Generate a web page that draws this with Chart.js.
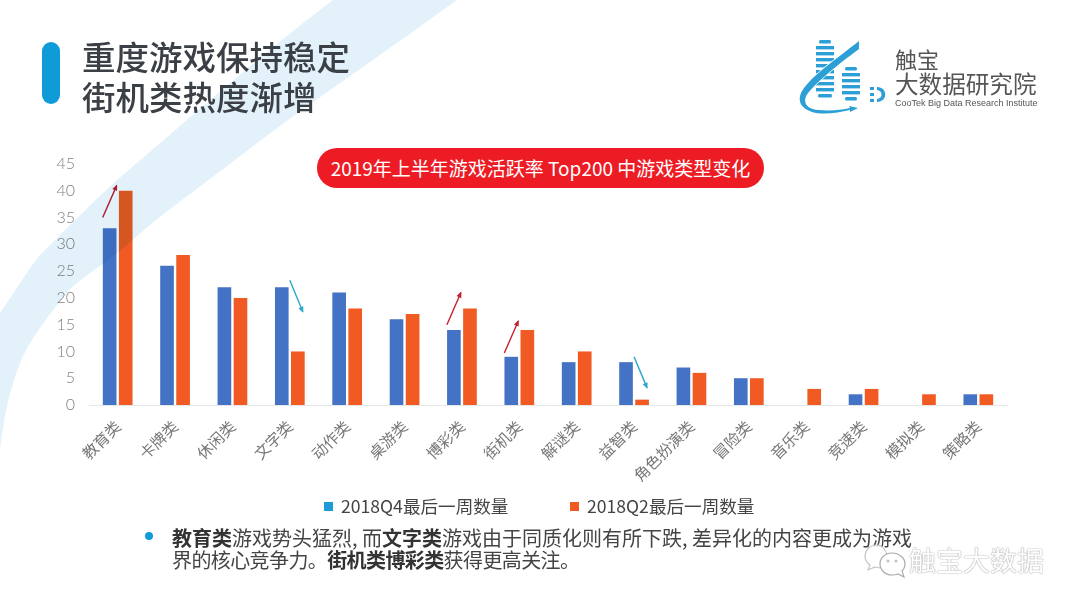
<!DOCTYPE html>
<html lang="zh-CN">

<head>
    <meta charset="UTF-8">
    <title>重度游戏保持稳定 街机类热度渐增</title>
    <script src="https://cdn.jsdelivr.net/npm/chart.js"></script>
    <style>
        html, body { margin: 0; padding: 0; background: #fff; }
        body { width: 1080px; height: 608px; position: relative; overflow: hidden; font-family: "Noto Sans CJK SC", "Noto Sans", sans-serif; }
        .abs { position: absolute; white-space: nowrap; }
        #chartBox { position: absolute; left: 0; top: 0; width: 1080px; height: 608px; }
        #band { position: absolute; left: 0; top: 0; mix-blend-mode: multiply; }
        #logo { position: absolute; left: 0; top: 0; }
        .title { left: 82px; font-size: 33.5px; line-height: 40px; color: #3b4046; font-weight: 500; }
        .pill { left: 317px; top: 148px; width: 447px; height: 40px; border-radius: 20px; background: #ed1c24; color: #fff; font-size: 19px; line-height: 40px; text-align: center; }
        .note { left: 172px; font-size: 20px; line-height: 24px; color: #444; }
        .note b { font-weight: 700; color: #333; }
        .mark { left: 909px; top: 541px; font-size: 27px; line-height: 38px; color: #fff; text-shadow: 0 0 1px #aaa, 0 0 1px #aaa, 0 0 2px #ccc; }
    </style>
</head>

<body>
    <div id="chartBox"><canvas id="gameChart" width="1080" height="608"></canvas></div>

    <!-- light swoosh in the background, multiplied over the bars like the original -->
    <svg id="band" width="1080" height="608">
        <path fill="#e3f2fa" d="M333 0 L457 0 C360 70 300 110 248 150 C200 187 160 215 133 240 C100 268 85 275 69 290 C45 320 30 340 20 363 C10 390 5 410 0 450 L0 313 C20 285 30 265 45 250 C70 225 95 200 117 180 C190 118 260 55 333 0 Z" />
    </svg>

    <svg id="logo" width="1080" height="608">
        <rect x="42" y="42" width="18" height="62" rx="9" fill="#0e9bd8" />
        <!-- striped towers -->
        <g fill="#2b9fd6">
            <rect x="819" y="40" width="12" height="3.4" rx="1.5" /><rect x="816" y="46" width="18" height="3.4" />
            <rect x="816" y="52" width="18" height="3.4" /><rect x="816" y="58" width="18" height="3.4" />
            <rect x="816" y="64" width="18" height="3.4" /><rect x="816" y="70" width="18" height="3.4" />
            <rect x="816" y="76" width="18" height="3.4" /><rect x="816" y="82" width="18" height="3.4" />
            <rect x="816" y="88" width="18" height="3.4" /><rect x="818" y="94" width="14" height="3.4" rx="1.5" />
            <rect x="845" y="67" width="12" height="3.4" rx="1.5" /><rect x="842" y="73" width="18" height="3.4" />
            <rect x="842" y="79" width="18" height="3.4" /><rect x="842" y="85" width="18" height="3.4" />
            <rect x="842" y="91" width="18" height="3.4" /><rect x="845" y="97" width="12" height="3.4" rx="1.5" />
            <path stroke="#fff" stroke-width="1.5" paint-order="stroke" d="M859 41 L859 49 C836 66 814 84 806 96 C803 104 808 109 818 110 C830 111 842 110 850 108 L849 106 L858 108 L850 112 L850 110 C838 113 822 115 812 112 C800 108 797 100 802 91 C812 75 838 58 859 41 Z" />
            <rect x="870" y="87" width="4" height="3" /><rect x="870" y="93" width="4" height="3" /><rect x="870" y="99" width="4" height="3" />
            <path d="M877 87 C888 87 888 102 877 102 L877 99 C883 99 883 90 877 90 Z" />
        </g>
    </svg>

    <div class="abs title" style="top:36px">重度游戏保持稳定</div>
    <div class="abs title" style="top:76px">街机类热度渐增</div>
    <div class="abs pill">2019年上半年游戏活跃率 Top200 中游戏类型变化</div>

    <div class="abs" style="left:895px;top:45px;font-size:22px;line-height:26px;color:#555">触宝</div>
    <div class="abs" style="left:895px;top:69px;font-size:23.6px;line-height:28px;color:#555">大数据研究院</div>
    <div class="abs" style="left:895px;top:97px;font-size:9px;line-height:12px;color:#555;font-family:'Liberation Sans'">CooTek Big Data Research Institute</div>

    <svg class="abs" style="left:144px;top:531px" width="10" height="10"><circle cx="5" cy="5" r="4" fill="#0e9bd8" /></svg>
    <div class="abs note" style="top:526px"><b>教育类</b>游戏势头猛烈, 而<b>文字类</b>游戏由于同质化则有所下跌, 差异化的内容更成为游戏</div>
    <div class="abs note" style="top:548px;letter-spacing:-0.6px">界的核心竞争力。<b>街机类博彩类</b>获得更高关注。</div>

    <!-- watermark sits on top of the note text -->
    <svg class="abs" style="left:0;top:0" width="1080" height="608">
        <g fill="#fff" fill-opacity="0.85" stroke="#c4c4c4" stroke-width="1.2">
            <path d="M877 545 C869 545 865 551 865 556 C865 560 867 563 870 565 L868 570 L875 567 C878 568 881 568 884 568 C890 568 889 545 877 545 Z" />
            <path d="M892 553 C885 553 880 558 880 564 C880 570 885 575 892 575 C894 575 896 575 898 574 L904 577 L902 571 C904 569 905 567 905 564 C905 558 899 553 892 553 Z" fill-opacity="1" stroke="#aaa" />
            <circle cx="888" cy="561" r="1" fill="#aaa" /><circle cx="896" cy="561" r="1" fill="#aaa" />
        </g>
    </svg>
    <div class="abs mark">触宝大数据</div>

    <script>
        const categories = ['教育类', '卡牌类', '休闲类', '文字类', '动作类', '桌游类', '博彩类', '街机类', '解谜类', '益智类', '角色扮演类', '冒险类', '音乐类', '竞速类', '模拟类', '策略类'];
        const seriesNames = ['2018Q4最后一周数量', '2018Q2最后一周数量'];
        const q4Values = [33, 26, 22, 22, 21, 16, 14, 9, 8, 8, 7, 5, 0, 2, 0, 2];
        const q2Values = [40, 28, 20, 10, 18, 17, 18, 14, 10, 1, 6, 5, 3, 3, 2, 2];

        // trend arrows, in axis values
        const arrowCategories = ['教育类', '文字类', '博彩类', '街机类', '益智类'];
        const arrowFrom = [35, 23.3, 15, 9.7, 9];
        const arrowTo = [41, 17.4, 21, 15.7, 3.2];

        const arrowPlugin = {
            id: 'trendArrows',
            afterDatasetsDraw(chart) {
                const { ctx, scales: { x, y } } = chart;
                arrowCategories.forEach((name, i) => {
                    const cx = x.getPixelForValue(categories.indexOf(name));
                    const up = arrowTo[i] > arrowFrom[i];
                    const x0 = up ? cx - 15 : cx;
                    const x1 = up ? cx - 1 : cx + 13;
                    const y0 = y.getPixelForValue(arrowFrom[i]);
                    const y1 = y.getPixelForValue(arrowTo[i]);
                    const angle = Math.atan2(y1 - y0, x1 - x0);
                    const color = up ? '#c2202f' : '#2ca6c8';
                    ctx.save();
                    ctx.strokeStyle = color;
                    ctx.fillStyle = color;
                    ctx.lineWidth = 1.4;
                    ctx.beginPath();
                    ctx.moveTo(x0, y0);
                    ctx.lineTo(x1, y1);
                    ctx.stroke();
                    ctx.translate(x1, y1);
                    ctx.rotate(angle);
                    ctx.beginPath();
                    ctx.moveTo(1, 0);
                    ctx.lineTo(-5, -2.6);
                    ctx.lineTo(-5, 2.6);
                    ctx.closePath();
                    ctx.fill();
                    ctx.restore();
                });
            }
        };

        // legend sits inside the space the rotated labels need, so it is drawn by hand
        // the first swatch is a lighter blue than its bars in the original
        const legendPlugin = {
            id: 'bottomLegend',
            afterDraw(chart) {
                const { ctx } = chart;
                const starts = [324, 570];
                const swatches = ['#1e9bd7', '#f15a22'];
                chart.data.datasets.forEach((ds, i) => {
                    ctx.save();
                    ctx.fillStyle = swatches[i];
                    ctx.fillRect(starts[i], 502, 9, 9);
                    ctx.fillStyle = '#444';
                    ctx.font = '17.6px "Noto Sans CJK SC"';
                    ctx.textBaseline = 'middle';
                    ctx.fillText(ds.label, starts[i] + 17, 506);
                    ctx.restore();
                });
            }
        };

        new Chart(document.getElementById('gameChart'), {
            type: 'bar',
            data: {
                labels: categories,
                datasets: [
                    { label: seriesNames[0], data: q4Values, backgroundColor: '#4472c4' },
                    { label: seriesNames[1], data: q2Values, backgroundColor: '#f15a22' }
                ]
            },
            options: {
                responsive: false,
                animation: false,
                categoryPercentage: 0.56,
                barPercentage: 0.85,
                layout: { padding: { top: 164, right: 73, bottom: 83, left: 0 } },
                plugins: {
                    tooltip: { enabled: false },
                    legend: { display: false }
                },
                scales: {
                    x: {
                        grid: { display: false },
                        border: { color: '#e4e6e8' },
                        afterFit(scale) { scale.height = 120; },
                        ticks: {
                            minRotation: 45,
                            maxRotation: 45,
                            autoSkip: false,
                            padding: 4,
                            color: '#777',
                            font: { family: '"Noto Sans CJK SC"', size: 15.5 }
                        }
                    },
                    y: {
                        min: 0,
                        max: 45,
                        grid: { display: false },
                        border: { display: false },
                        afterFit(scale) { scale.width = 89; },
                        ticks: {
                            stepSize: 5,
                            padding: 6,
                            color: '#808080',
                            font: { family: 'Lato', size: 16, weight: '300' }
                        }
                    }
                }
            },
            plugins: [arrowPlugin, legendPlugin]
        });
    </script>
</body>

</html>
